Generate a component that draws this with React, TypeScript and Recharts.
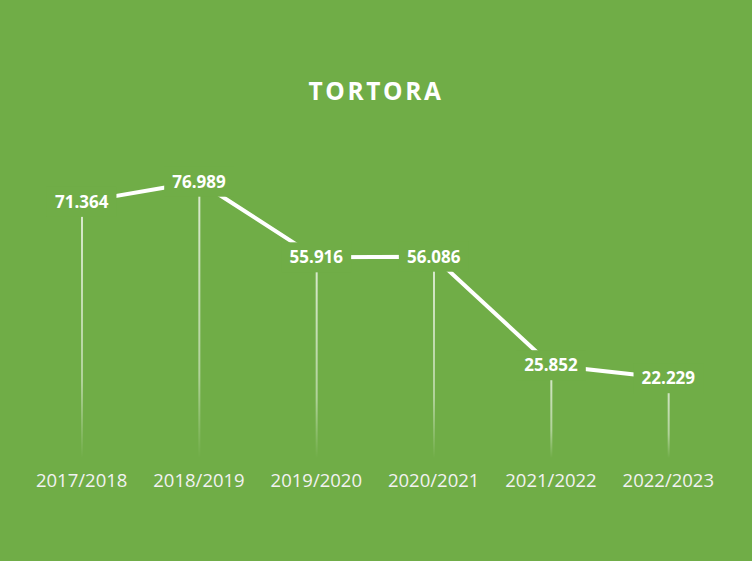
import React from "react";
import { ComposedChart, Line, Bar, XAxis, YAxis, LabelList } from "recharts";

const seasons = ["2017/2018", "2018/2019", "2019/2020", "2020/2021", "2021/2022", "2022/2023"];
const values = [71.364, 76.989, 55.916, 56.086, 25.852, 22.229];
const title = "TORTORA";

const data = seasons.map((s, i) => ({ season: s, value: values[i] }));

const GREEN = "#70AD47";
const FONT = "'Open Sans', 'Noto Sans', sans-serif";

const renderLabel = (props: any) => {
  const { x, y, value } = props;
  const txt = Number(value).toFixed(3);
  const w = txt.length * 9.6 + 12;
  const h = 30;
  return (
    <g>
      <rect x={x - w / 2} y={y - h / 2} width={w} height={h} fill={GREEN} />
      <text
        x={x}
        y={y + 6}
        textAnchor="middle"
        fill="#FFFFFF"
        fontFamily={FONT}
        fontWeight={700}
        fontSize={17}
      >
        {txt}
      </text>
    </g>
  );
};

export default function App() {
  return (
    <div
      style={{
        position: "absolute",
        left: 0,
        top: 0,
        width: 752,
        height: 561,
        background: GREEN,
        overflow: "hidden",
      }}
    >
      <svg width={752} height={561} style={{ position: "absolute", left: 0, top: 0 }}>
        <text
          x={376}
          y={100}
          textAnchor="middle"
          fill="#FFFFFF"
          fontFamily={FONT}
          fontWeight={700}
          fontSize={24.5}
          letterSpacing={2.6}
        >
          {title}
        </text>
      </svg>
      <div style={{ position: "absolute", left: 0, top: 0 }}>
        <ComposedChart
          width={752}
          height={561}
          data={data}
          margin={{ top: 135, right: 25, left: 23, bottom: 0 }}
        >
          <defs>
            <linearGradient id="dropGrad" x1="0" y1="0" x2="0" y2="1">
              <stop offset="0%" stopColor="#FFFFFF" stopOpacity={0.75} />
              <stop offset="70%" stopColor="#FFFFFF" stopOpacity={0.45} />
              <stop offset="100%" stopColor="#FFFFFF" stopOpacity={0} />
            </linearGradient>
          </defs>
          <XAxis
            dataKey="season"
            axisLine={false}
            tickLine={false}
            height={103}
            tickMargin={10}
            interval={0}
            tick={{ fill: "#F2F2F2", fontSize: 18.5, fontFamily: FONT }}
          />
          <YAxis hide domain={[0, 90]} />
          <Bar dataKey="value" barSize={2} fill="url(#dropGrad)" isAnimationActive={false} />
          <Line
            type="linear"
            dataKey="value"
            stroke="#FFFFFF"
            strokeWidth={4}
            dot={false}
            activeDot={false}
            isAnimationActive={false}
          >
            <LabelList dataKey="value" content={renderLabel} />
          </Line>
        </ComposedChart>
      </div>
    </div>
  );
}
